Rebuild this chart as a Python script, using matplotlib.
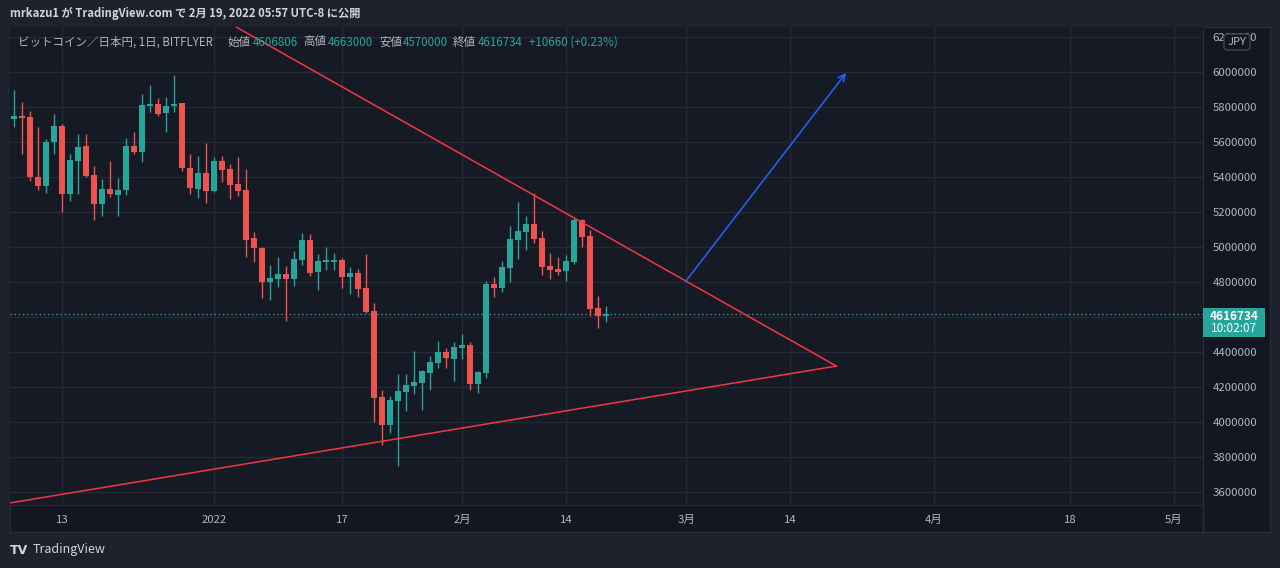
import numpy as np
import pandas as pd
import matplotlib
matplotlib.use("Agg")
import matplotlib.pyplot as plt
import matplotlib.dates as mdates
from matplotlib.patches import Rectangle, FancyBboxPatch

plt.rcParams['font.family'] = ['Noto Sans CJK JP', 'DejaVu Sans']

# Daily candles, BITFLYER BTC/JPY
dates = pd.date_range("2021-12-07", "2022-02-19", freq="D")
opens = [5733000, 5750000, 5744000, 5401000, 5349000, 5601000, 5693000, 5304000, 5492000, 5578000,
         5412000, 5246000, 5332000, 5298000, 5326000, 5578000, 5544000, 5807000, 5819000, 5767000,
         5807000, 5824000, 5452000, 5332000, 5424000, 5321000, 5492000, 5447000, 5361000, 5326000,
         5052000, 4995000, 4800000, 4817000, 4846000, 4817000, 4926000, 5040000, 4857000, 4914000,
         4914000, 4926000, 4829000, 4851000, 4766000, 4634000, 4142000, 3982000, 4119000, 4171000,
         4205000, 4222000, 4279000, 4336000, 4399000, 4359000, 4422000, 4439000, 4216000, 4279000,
         4789000, 4766000, 4880000, 5040000, 5086000, 5132000, 5052000, 4892000, 4874000, 4863000,
         4914000, 5155000, 5063000, 4651000, 4606806]
highs = [5899000, 5830000, 5779000, 5687000, 5618000, 5761000, 5704000, 5532000, 5647000, 5647000,
         5464000, 5389000, 5492000, 5395000, 5624000, 5658000, 5876000, 5927000, 5853000, 5859000,
         5985000, 5826000, 5532000, 5521000, 5595000, 5515000, 5521000, 5475000, 5515000, 5447000,
         5086000, 5000000, 4897000, 4943000, 4892000, 4977000, 5080000, 5075000, 4960000, 5000000,
         4966000, 4937000, 4886000, 4874000, 4960000, 4680000, 4182000, 4148000, 4274000, 4274000,
         4405000, 4296000, 4377000, 4462000, 4422000, 4457000, 4502000, 4457000, 4291000, 4806000,
         4829000, 4920000, 5120000, 5258000, 5178000, 5309000, 5092000, 4966000, 4943000, 4954000,
         5172000, 5160000, 5098000, 4720000, 4663000]
lows = [5689000, 5532000, 5378000, 5326000, 5309000, 5532000, 5201000, 5264000, 5304000, 5400000,
        5155000, 5178000, 5286000, 5178000, 5298000, 5532000, 5487000, 5773000, 5750000, 5658000,
        5773000, 5435000, 5304000, 5281000, 5252000, 5315000, 5372000, 5275000, 5292000, 4943000,
        4914000, 4708000, 4697000, 4771000, 4577000, 4777000, 4897000, 4834000, 4754000, 4869000,
        4869000, 4766000, 4731000, 4714000, 4623000, 3999000, 3867000, 3936000, 3747000, 4062000,
        4159000, 4068000, 4182000, 4308000, 4308000, 4233000, 4359000, 4182000, 4165000, 4251000,
        4714000, 4743000, 4800000, 4932000, 4983000, 5023000, 4840000, 4817000, 4840000, 4806000,
        4903000, 5000000, 4605000, 4537000, 4570000]
closes = [5750000, 5740000, 5401000, 5349000, 5601000, 5693000, 5304000, 5498000, 5573000, 5407000,
          5246000, 5332000, 5304000, 5326000, 5578000, 5544000, 5813000, 5819000, 5761000, 5807000,
          5819000, 5452000, 5338000, 5424000, 5321000, 5492000, 5441000, 5355000, 5321000, 5040000,
          4995000, 4800000, 4823000, 4846000, 4817000, 4932000, 5040000, 4851000, 4920000, 4926000,
          4926000, 4829000, 4851000, 4760000, 4628000, 4136000, 3982000, 4125000, 4176000, 4211000,
          4228000, 4291000, 4342000, 4399000, 4365000, 4428000, 4439000, 4216000, 4285000, 4789000,
          4766000, 4886000, 5046000, 5092000, 5132000, 5046000, 4886000, 4869000, 4857000, 4920000,
          5155000, 5057000, 4645000, 4605000, 4616734]

# drawings
upper_dates = ["2022-01-01 00:00", "2022-03-19 19:00"]
upper_prices = [6331000, 4319000]
lower_dates = ["2021-12-01 00:00", "2022-03-19 19:00"]
lower_prices = [3494000, 4319000]
arrow_dates = ["2022-03-01 00:00", "2022-03-21 00:00"]
arrow_prices = [4806000, 5996000]

tick_dates = ["2021-12-13", "2022-01-01", "2022-01-17", "2022-02-01", "2022-02-14",
              "2022-03-01", "2022-03-14", "2022-04-01", "2022-04-18", "2022-05-01"]
tick_labels = ["13", "2022", "17", "2月", "14", "3月", "14", "4月", "18", "5月"]
price_ticks = list(range(3600000, 6200001, 200000))
hidden_ticks = [4600000]  # covered by the last-price label

UP = "#26a69a"
DOWN = "#ef5350"
LINE_RED = "#f23645"
GRID = "#252934"
BORDER = "#2a2e39"
TXT = "#b2b5be"

W, H = 1280, 568
fig = plt.figure(figsize=(12.8, 5.68), dpi=100)
fig.patch.set_facecolor("#1e222d")


def fx(x):
    return x / W


def fy(y):
    return 1 - y / H


def dnum(s):
    return mdates.date2num(pd.to_datetime(s, format="%Y-%m-%d %H:%M"))


# panel background (axis strips)
panel = fig.add_axes([fx(10), fy(532), fx(1260), (532 - 27) / H])
panel.set_facecolor("#131722")
panel.set_xticks([])
panel.set_yticks([])
for s in panel.spines.values():
    s.set_color(BORDER)

ax = fig.add_axes([fx(10), fy(505), fx(1202.7 - 10), (505 - 27) / H])
ax.set_facecolor("#161a25")

x = mdates.date2num(dates)
o = np.array(opens)
h = np.array(highs)
l = np.array(lows)
c = np.array(closes)
colors = np.where(c >= o, UP, DOWN)
body_lo = np.minimum(o, c)
body_h = np.maximum(np.abs(c - o), 6000)

ax.vlines(x, l, h, colors=colors, linewidth=1, zorder=3)
ax.bar(x, body_h, bottom=body_lo, width=0.66, color=colors, linewidth=0, zorder=4)

ax.plot(dnum(upper_dates), upper_prices, color=LINE_RED, lw=1.1, zorder=5)
ax.plot(dnum(lower_dates), lower_prices, color=LINE_RED, lw=1.1, zorder=5)
arr_x = dnum(arrow_dates)
ax.annotate("", xy=(arr_x[1], arrow_prices[1]), xytext=(arr_x[0], arrow_prices[0]),
            arrowprops=dict(arrowstyle="->,head_length=0.5,head_width=0.25", color="#2962ff", lw=1.1,
                            shrinkA=0, shrinkB=0),
            zorder=5)

ax.axhline(closes[-1], color=UP, lw=1, linestyle=(0, (1, 2)), zorder=2)

ax.set_xlim(dnum("2021-12-06 12:00"), dnum("2022-05-04 14:00"))
ax.set_ylim(3523900, 6259200)

ax.set_xticks(mdates.date2num(pd.to_datetime(tick_dates)))
ax.set_xticklabels(tick_labels)
ax.set_yticks(price_ticks)
ax.set_yticklabels(["" if p in hidden_ticks else str(p) for p in price_ticks])
ax.yaxis.tick_right()
ax.tick_params(axis="both", length=0, colors=TXT, labelsize=8.2)
ax.tick_params(axis="y", pad=7)
ax.tick_params(axis="x", pad=7)
ax.grid(True, color=GRID, lw=1)
ax.set_axisbelow(True)
for name, s in ax.spines.items():
    s.set_color(BORDER)
    s.set_visible(name in ("right", "bottom"))

# divider under the price strip
fig.add_artist(plt.Line2D([fx(1202.7), fx(1202.7)], [fy(505), fy(532)], color=BORDER, lw=1))

# header
fig.text(fx(10), fy(14), "mrkazu1 が TradingView.com で 2月 19, 2022 05:57 UTC-8 に公開",
         color="#d1d4dc", fontsize=8.1, fontweight="bold", va="center", ha="left")

# legend line
legend_parts = [
    (18, "ビットコイン／日本円, 1日, BITFLYER", TXT),
    (228, "始値", TXT), (253, "4606806", UP),
    (303, "高値", TXT), (328, "4663000", UP),
    (379, "安値", TXT), (403, "4570000", UP),
    (453, "終値", TXT), (478, "4616734", UP),
    (529, "+10660 (+0.23%)", UP),
]
for px, s, col in legend_parts:
    fig.text(fx(px), fy(42), s, color=col, fontsize=8.3, va="center", ha="left")

# JPY box (sits over the top price label, as in the reference)
jpy = FancyBboxPatch((fx(1224), fy(50)), fx(26), 16 / H, boxstyle="round,pad=0,rounding_size=0.004",
                     transform=fig.transFigure, facecolor="#131722", edgecolor="#434651", lw=1, zorder=10)
fig.add_artist(jpy)
fig.text(fx(1237), fy(42), "JPY", color=TXT, fontsize=8, ha="center", va="center", zorder=11)

# last price label
fig.add_artist(Rectangle((fx(1202.7), fy(337)), fx(62), 29 / H, transform=fig.transFigure,
                         facecolor=UP, edgecolor="none", zorder=10))
fig.text(fx(1234), fy(316), "4616734", color="white", fontsize=8.5, fontweight="bold",
         ha="center", va="center", zorder=11)
fig.text(fx(1234), fy(329), "10:02:07", color="white", fontsize=8.5,
         ha="center", va="center", zorder=11)

# footer
fig.text(fx(10), fy(550), "TV", color="#d1d4dc", fontsize=9, fontweight="heavy",
         ha="left", va="center", family="DejaVu Sans")
fig.text(fx(33), fy(550), "TradingView", color="#d1d4dc", fontsize=9, ha="left", va="center")

fig.savefig("out.png", dpi=100, facecolor=fig.get_facecolor())
